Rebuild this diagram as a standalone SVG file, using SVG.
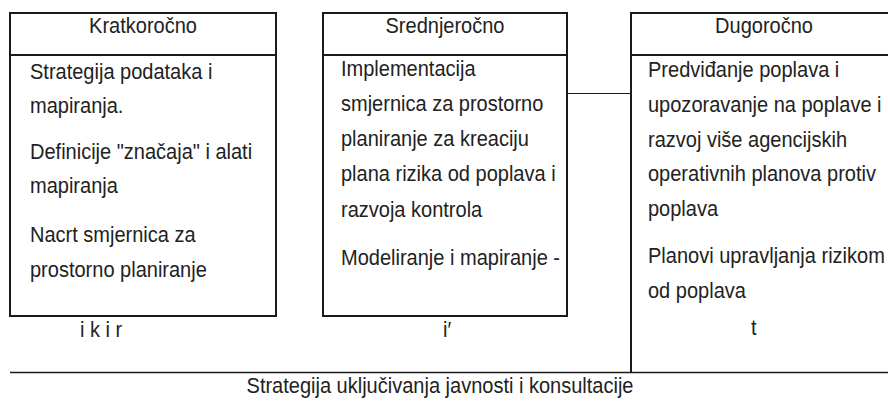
<svg xmlns="http://www.w3.org/2000/svg" width="888" height="417" viewBox="0 0 888 417">
<style>
  .t { font-family: "Liberation Sans", Arial, sans-serif; font-size: 22px; fill: #222; }
  .m { text-anchor: middle; }
  .b { fill: none; stroke: #1a1a1a; stroke-width: 2; }
  .c { fill: none; stroke: #1a1a1a; stroke-width: 1.2; }
</style>
<rect width="888" height="417" fill="#fff"/>
<g id="kratkorocno">
  <rect class="b" x="10" y="13" width="266" height="303"/>
  <line class="b" x1="10" y1="55" x2="277" y2="55"/>
  <g transform="translate(143 0) scale(0.91 1)">
    <text class="t m" x="0" y="33">Kratkoročno</text>
  </g>
  <g transform="translate(30 0) scale(0.91 1)">
    <text class="t" x="0" y="79">Strategija podataka i</text>
    <text class="t" x="0" y="113">mapiranja.</text>
    <text class="t" x="0" y="159">Definicije "značaja" i alati</text>
    <text class="t" x="0" y="193">mapiranja</text>
    <text class="t" x="0" y="242">Nacrt smjernica za</text>
    <text class="t" x="0" y="277">prostorno planiranje</text>
  </g>
  <g transform="translate(80 0) scale(0.91 1)">
    <text class="t" x="0" y="337">i k i r</text>
  </g>
</g>
<g id="srednjerocno">
  <rect class="b" x="323" y="13" width="244" height="303"/>
  <line class="b" x1="323" y1="55" x2="568" y2="55"/>
  <g transform="translate(445 0) scale(0.91 1)">
    <text class="t m" x="0" y="33">Srednjeročno</text>
  </g>
  <g transform="translate(341 0) scale(0.91 1)">
    <text class="t" x="0" y="76">Implementacija</text>
    <text class="t" x="0" y="111">smjernica za prostorno</text>
    <text class="t" x="0" y="146">planiranje za kreaciju</text>
    <text class="t" x="0" y="181">plana rizika od poplava i</text>
    <text class="t" x="0" y="217">razvoja kontrola</text>
    <text class="t" x="0" y="265">Modeliranje i mapiranje -</text>
  </g>
  <g transform="translate(443 0) scale(0.91 1)">
    <text class="t" x="0" y="337">i′</text>
  </g>
</g>
<g id="dugorocno">
  <path class="b" d="M888,13 H631 V372"/>
  <line class="b" x1="631" y1="55" x2="888" y2="55"/>
  <g transform="translate(764 0) scale(0.91 1)">
    <text class="t m" x="0" y="33">Dugoročno</text>
  </g>
  <g transform="translate(648 0) scale(0.91 1)">
    <text class="t" x="0" y="77">Predviđanje poplava i</text>
    <text class="t" x="0" y="112">upozoravanje na poplave i</text>
    <text class="t" x="0" y="147">razvoj više agencijskih</text>
    <text class="t" x="0" y="181">operativnih planova protiv</text>
    <text class="t" x="0" y="216">poplava</text>
    <text class="t" x="0" y="263">Planovi upravljanja rizikom</text>
    <text class="t" x="0" y="298">od poplava</text>
  </g>
  <g transform="translate(751 0) scale(0.91 1)">
    <text class="t" x="0" y="335">t</text>
  </g>
</g>
<g id="javnost">
  <line class="c" x1="10" y1="372.5" x2="888" y2="372.5" style="stroke-width:1.5"/>
  <g transform="translate(440 0) scale(0.91 1)">
    <text class="t m" x="0" y="393">Strategija uključivanja javnosti i konsultacije</text>
  </g>
</g>
<g id="connectors">
  <line class="c" x1="567" y1="93.5" x2="631" y2="93.5"/>
</g>
</svg>
